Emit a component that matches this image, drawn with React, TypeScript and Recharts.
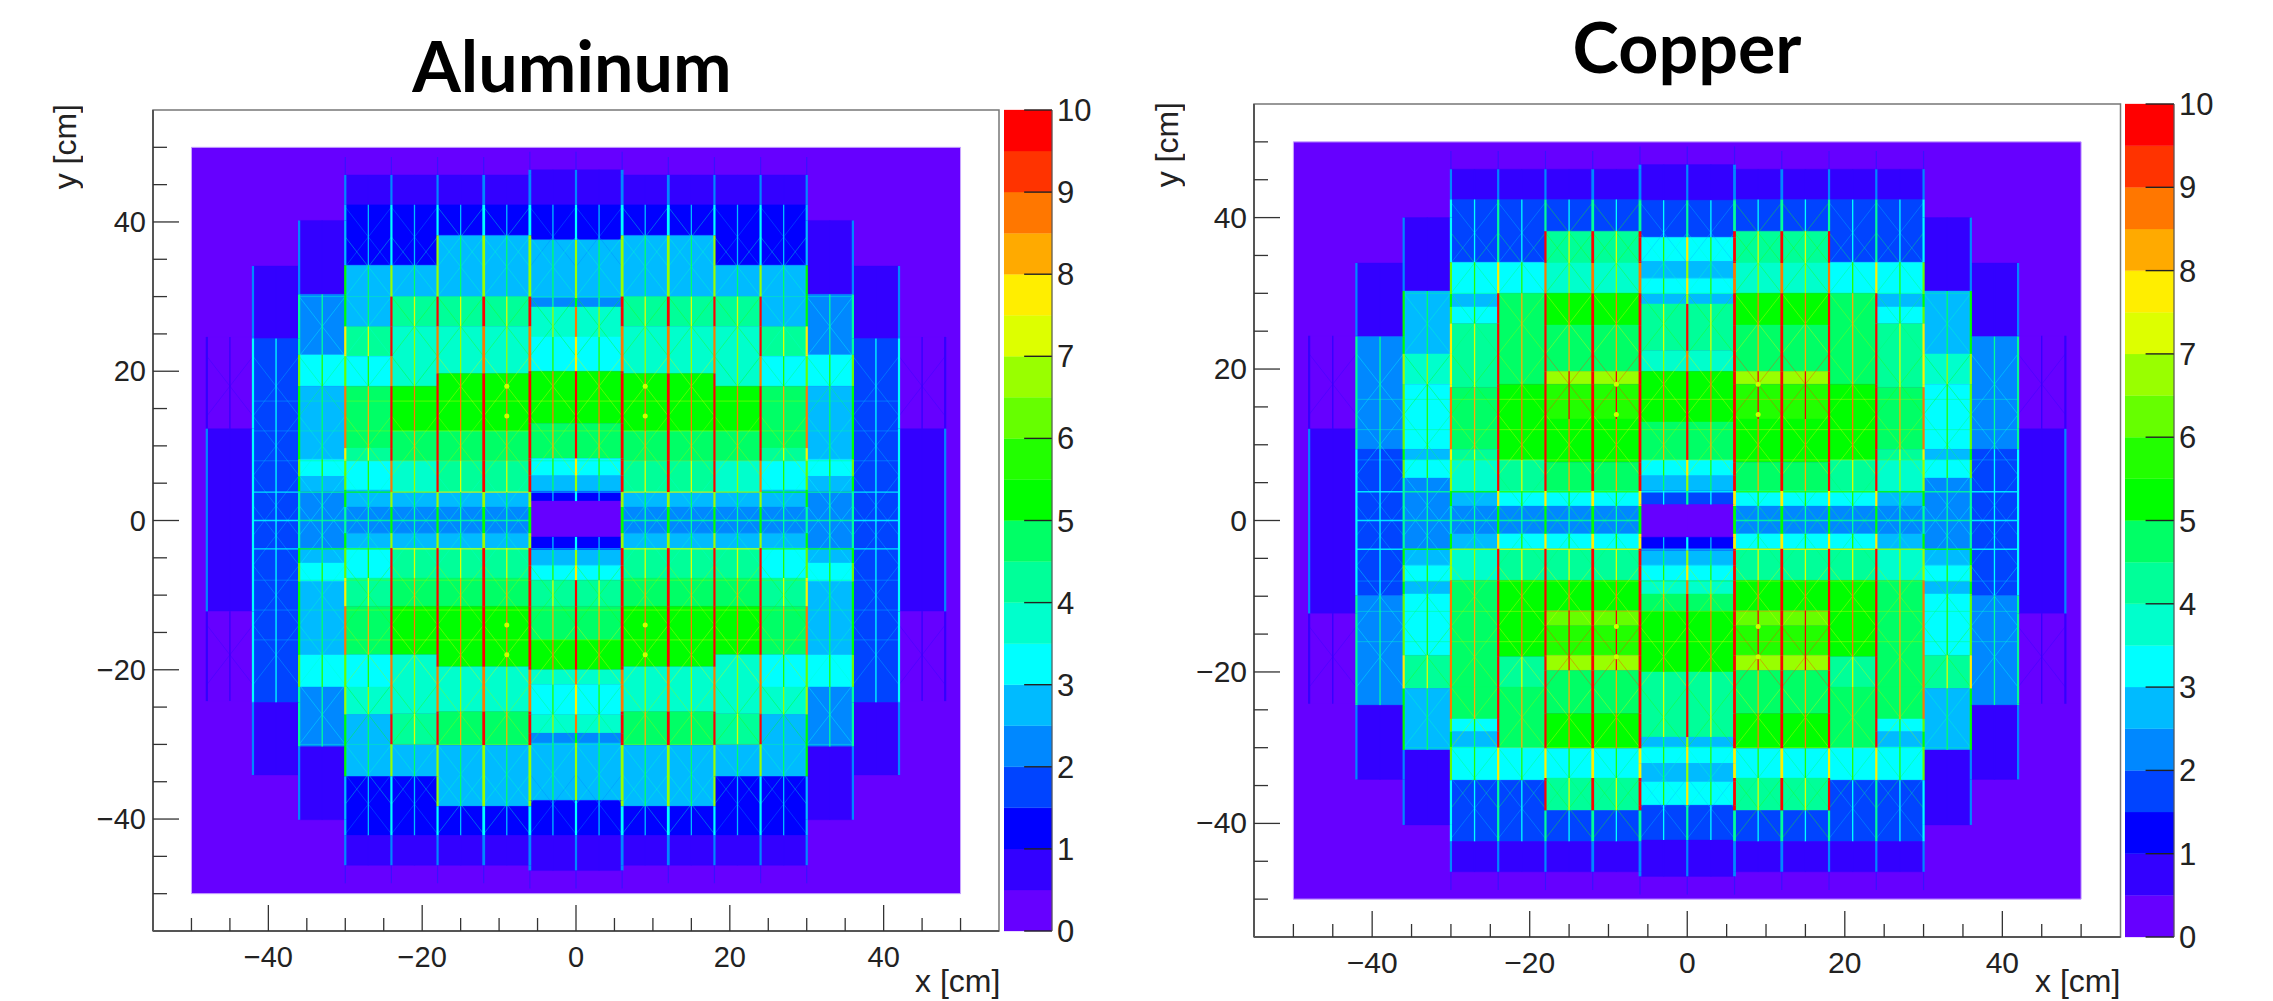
import React from "react";
import { ComposedChart, XAxis, YAxis, ReferenceArea, ReferenceLine, Scatter } from "recharts";

// Colour levels of the palette, bottom (0) to top (10), 0.5 per level
const paletteLevels = ["#6600ff","#3300ff","#0000ff","#0044ff","#0088ff","#00bbff","#00ffff","#00ffcc","#00ff99","#00ff66","#00ff00","#22ff00","#66ff00","#99ff00","#ddff00","#ffee00","#ffaa00","#ff7700","#ff3300","#ff0000"];
const colorbarTicks = [0,1,2,3,4,5,6,7,8,9,10];
const axisTicks = [-50,-45,-40,-35,-30,-25,-20,-15,-10,-5,0,5,10,15,20,25,30,35,40,45,50];

// Each column: y edge, value, y edge, value, ..., y edge (top to bottom, in cm)
const alCol0 = [47,.75,42.3,1.25,37.6,2.75,29.8,2.25,28.6,3.75,24.6,3.25,20,5.25,13,4.75,8.3,3.25,6,2.75,3.9,1.25,2.6,.25,-2.2,1.25,-3.95,2.75,-6,3.25,-8,4.25,-11.5,4.75,-16,5.25,-20,3.75,-22,3.25,-26,3.75,-28.5,2.25,-29.8,2.75,-37.5,1.25,-42.2,.75,-46.9];
const alCol6 = [46.3,.75,42.3,1.25,38.2,2.75,30,4.25,26,3.75,19.7,5.25,12,4.75,8,4.25,3.8,2.75,1.8,2.25,-1.7,2.75,-3.7,4.25,-7.7,4.75,-11.5,5.25,-19.6,3.75,-25.6,4.75,-30.1,2.75,-38.3,1.25,-42.2,.75,-46.2];
const alCol18 = [46.3,.75,42.3,1.25,34.2,2.75,30,4.25,26,3.75,18,5.25,12,4.75,8,3.75,3.8,2.75,1.8,2.25,-1.7,2.75,-3.7,4.25,-7.7,4.75,-11.5,5.25,-18,3.75,-25.9,4.25,-30,2.75,-34.3,1.25,-42.2,.75,-46.2];
const alCol24 = [46.3,.75,42.3,1.25,34.2,2.75,26,4.25,22,3.25,18,4.75,9.7,4.25,8,3.25,4.1,2.75,1.8,2.25,-1.7,2.75,-3.7,3.25,-7.7,4.25,-11.5,4.75,-18,3.25,-22.3,3.75,-26,2.75,-34.3,1.25,-42.2,.75,-46.2];
const alCol30 = [40.2,.75,30.3,2.25,22.2,3.25,18,2.75,8.2,3.25,5.9,2.75,3.9,2.25,-3.7,2.75,-5.7,3.25,-8.2,2.75,-18,3.25,-22.3,2.25,-30.3,.75,-40.1];
const alCol36 = [34.1,.75,24.4,1.75,-24.4,.75,-34.1];
const alCol42 = [24.6,.25,12.3,.75,-12.2,.25,-24.2];

const cuCol0 = [47,.75,42.3,1.75,37.4,3.25,34.2,2.75,32,3.25,29.9,2.75,28.6,4.25,22.4,3.75,19.7,5.25,13,4.75,8,3.25,5.9,2.75,3.9,1.75,2.1,.25,-2.2,1.25,-3.95,2.75,-5.9,3.25,-7.9,3.75,-9.7,4.75,-12,5.25,-20,4.25,-28.6,2.75,-29.9,3.25,-32.1,2.75,-34.5,3.25,-37.6,1.75,-42.2,.75,-47];
const cuCol6 = [46.4,.75,42.4,1.75,38.2,4.25,34,3.75,30,5.25,25.8,4.75,19.7,6.75,18,5.75,13.4,5.25,7.7,4.75,3.9,3.25,1.9,2.25,-1.76,3.25,-3.74,4.25,-7.9,5.25,-11.9,6.25,-13.9,5.75,-17.8,6.75,-19.8,4.75,-25.5,5.25,-30.1,3.25,-34,4.25,-38.3,1.75,-42.4,.75,-46.4];
const cuCol18 = [46.4,.75,42.4,1.75,34.1,3.25,30,4.75,18,5.25,8,4.25,3.9,3.25,1.9,2.25,-1.76,3.25,-3.74,4.25,-7.9,5.25,-18,4.25,-22,4.75,-30,3.25,-34.3,1.75,-42.4,.75,-46.4];
const cuCol24 = [46.4,.75,42.4,1.75,34.1,3.25,29.9,2.75,28.2,3.25,26,4.25,17.6,4.75,9.4,4.25,8,3.75,3.9,2.75,1.9,2.25,-1.76,2.75,-3.74,3.75,-7.9,4.75,-22,4.75,-26.2,3.25,-27.9,2.75,-29.9,3.25,-34.3,1.75,-42.4,.75,-46.4];
const cuCol30 = [40,.75,30.3,2.75,22,3.75,18,3.25,9.4,2.75,8,3.25,5.6,2.25,-3.7,2.75,-5.9,3.25,-8.1,2.75,-9.7,3.25,-17.8,4.25,-22.2,2.75,-30.3,.75,-40.2];
const cuCol36 = [34,.75,24.3,2.25,9.4,1.75,-9.9,2.25,-24.4,.75,-34.2];
const cuCol42 = [24.4,.25,12.1,.75,-12.3,.25,-24.2];

const alColumns = [alCol0, alCol6, alCol6, alCol18, alCol24, alCol30, alCol36, alCol42];
const cuColumns = [cuCol0, cuCol6, cuCol6, cuCol18, cuCol24, cuCol30, cuCol36, cuCol42];

// Module grid of the detector, cm
const moduleEdges = [-48,-42,-36,-30,-24,-18,-12,-6,0,6,12,18,24,30,36,42];
const latticeCrossings = [38,34,26,18,10,2,-2,-10,-18,-26,-34,-38];
const brightRows = [0,3.8,-3.8];
const faintRows = [12,8,16,-8,-12,-16,30,-30];
const hotSpots = [
  { x: -9, y: 18 },{ x: -9, y: 14 },{ x: 9, y: 18 },{ x: 9, y: 14 },
  { x: -9, y: -14 },{ x: -9, y: -18 },{ x: 9, y: -14 },{ x: 9, y: -18 },
];
const barAnchors = colorbarTicks.map((v) => ({ x: 1, v }));

const colorOf = (v: number) => paletteLevels[Math.max(0, Math.min(19, Math.floor(v * 2)))];
const valueIn = (col: number[] | undefined, y: number) => {
  if (!col) return 0;
  for (let i = 1; i < col.length; i += 2) if (y <= col[i - 1] && y >= col[i + 1]) return col[i];
  return 0;
};
const colFor = (cols: number[][], x: number) => cols[Math.floor(Math.abs(x) / 6)];

function cells(cols: number[][]) {
  const out: any[] = [];
  moduleEdges.forEach((x0) => {
    const col = colFor(cols, x0 + 3);
    for (let i = 1; i < col.length; i += 2) {
      const c = colorOf(col[i]);
      out.push(
        <ReferenceArea key={`c${x0}_${i}`} x1={x0} x2={x0 + 6} y1={col[i + 1]} y2={col[i - 1]} fill={c} fillOpacity={1} stroke={c} strokeWidth={0.4} />
      );
    }
  });
  return out;
}

function lattice(cols: number[][]) {
  const out: any[] = [];
  moduleEdges.forEach((x0) => {
    const col = colFor(cols, x0 + 3);
    latticeCrossings.forEach((cy) => {
      const v = valueIn(col, cy);
      if (v === 0 || v === 0.75) return;
      if (x0 >= -6 && x0 < 6 && Math.abs(cy) < 3) return;
      const c = colorOf(v * 1.3 + 0.4);
      [[4, -4], [-4, 4]].forEach(([a, b], k) =>
        out.push(
          <ReferenceLine key={`l${x0}_${cy}_${k}`} segment={[{ x: x0, y: cy + a }, { x: x0 + 6, y: cy + b }]} stroke={c} strokeWidth={0.9} strokeOpacity={0.42} />
        )
      );
    });
  });
  return out;
}

function rows(cols: number[][]) {
  const out: any[] = [];
  moduleEdges.forEach((x0) => {
    if (Math.abs(x0 + 3) > 42) return;
    const col = colFor(cols, x0 + 3);
    brightRows.concat(faintRows).forEach((y, n) => {
      const v = valueIn(col, y);
      if (v <= 0.75) return;
      if (x0 >= -6 && x0 < 6 && Math.abs(y) < 3) return;
      const bright = n < brightRows.length;
      out.push(
        <ReferenceLine key={`r${x0}_${y}`} segment={[{ x: x0, y }, { x: x0 + 6, y }]} stroke={colorOf(v * (bright ? 1.6 : 1.3) + 0.6)} strokeWidth={bright ? 1.4 : 1} strokeOpacity={bright ? 0.85 : 0.4} />
      );
    });
  });
  return out;
}

function verticals(cols: number[][]) {
  const out: any[] = [];
  for (let k = -16; k <= 16; k++) {
    const x = k * 3;
    const major = k % 2 === 0;
    const inner = x === 0 ? cols[0] : colFor(cols, x - Math.sign(x));
    const outer = Math.abs(x) + 1 < 48 ? colFor(cols, x + Math.sign(x || 1)) : undefined;
    const edges = Array.from(new Set([
      ...inner.filter((_, i) => i % 2 === 0),
      ...(outer || []).filter((_, i) => i % 2 === 0),
    ])).sort((a, b) => b - a);
    const factor = major ? (Math.abs(x) >= 30 ? 1.7 : 2.2) : 1.6;
    const width = major ? (Math.abs(x) === 6 || Math.abs(x) === 12 ? 2.8 : 2.2) : 1.3;
    for (let i = 0; i + 1 < edges.length; i++) {
      const mid = (edges[i] + edges[i + 1]) / 2;
      const v = Math.max(valueIn(inner, mid), valueIn(outer, mid));
      if (v === 0) continue;
      if (Math.abs(x) < 6 && Math.abs(mid) < 2.2) continue;
      const c = colorOf(v <= 0.25 ? 0.75 : v <= 0.75 ? (major ? 2.2 : 0.9) : 0.5 + factor * v);
      out.push(
        <ReferenceLine key={`v${x}_${i}`} segment={[{ x, y: edges[i] }, { x, y: edges[i + 1] }]} stroke={c} strokeWidth={width} />
      );
    }
    if (major && Math.abs(x) <= 30) {
      [1, -1].forEach((s) => {
        const end = s > 0 ? edges[0] : edges[edges.length - 1];
        out.push(
          <ReferenceLine key={`e${x}_${s}`} segment={[{ x, y: end }, { x, y: end + s * 2.4 }]} stroke="#3a10ff" strokeWidth={1.2} />
        );
      });
    }
  }
  return out;
}

const XTick = ({ x, y, payload, labelPx }: any) => {
  const v = payload.value;
  const major = v % 20 === 0;
  return (
    <g>
      <line x1={x} x2={x} y1={y} y2={y - (major ? 26 : 13)} stroke="#333" strokeWidth={1.3} />
      {major && Math.abs(v) <= 40 ? (
        <text x={x} y={y + 36} textAnchor="middle" fontFamily="Liberation Sans" fontSize={labelPx} fill="#222">
          {v < 0 ? `\u2212${-v}` : v}
        </text>
      ) : null}
    </g>
  );
};

const YTick = ({ x, y, payload, labelPx }: any) => {
  const v = payload.value;
  const major = v % 20 === 0;
  return (
    <g>
      <line x1={x} x2={x + (major ? 26 : 14)} y1={y} y2={y} stroke="#333" strokeWidth={1.3} />
      {major && Math.abs(v) <= 40 ? (
        <text x={x - 7} y={y + 10} textAnchor="end" fontFamily="Liberation Sans" fontSize={labelPx} fill="#222">
          {v < 0 ? `\u2212${-v}` : v}
        </text>
      ) : null}
    </g>
  );
};

const BarTick = ({ x, y, payload, labelPx }: any) => (
  <text x={x + 5} y={y + 11} textAnchor="start" fontFamily="Liberation Sans" fontSize={labelPx} fill="#222">
    {payload.value}
  </text>
);

function Panel({ columns, left, width, top, bottom, plotLeft, plotRight, labelPx }: any) {
  const height = 1001;
  const margin = { left: plotLeft - 40, right: width - plotRight, top, bottom: height - bottom - 40 };
  return (
    <div style={{ position: "absolute", left, top: 0 }}>
      <ComposedChart width={width} height={height} margin={margin} data={hotSpots}>
        <XAxis
          xAxisId={0}
          dataKey="x"
          type="number"
          domain={[-55, 55]}
          ticks={axisTicks}
          interval={0}
          height={40}
          tickSize={0}
          tickMargin={0}
          tickLine={false}
          allowDataOverflow
          axisLine={{ stroke: "#555", strokeWidth: 2 }}
          tick={<XTick labelPx={labelPx} />}
        />
        <YAxis
          yAxisId={0}
          dataKey="y"
          type="number"
          domain={[-55, 55]}
          ticks={axisTicks}
          interval={0}
          width={40}
          tickSize={0}
          tickMargin={0}
          tickLine={false}
          allowDataOverflow
          axisLine={{ stroke: "#555", strokeWidth: 2 }}
          tick={<YTick labelPx={labelPx} />}
        />
        <ReferenceArea x1={-50} x2={50} y1={-50} y2={50} fill={paletteLevels[0]} fillOpacity={1} stroke="#c9a6ff" strokeWidth={1} />
        {cells(columns)}
        {lattice(columns)}
        {rows(columns)}
        {verticals(columns)}
        <ReferenceArea x1={-55} x2={55} y1={-55} y2={55} fill="none" fillOpacity={0} stroke="#777" strokeWidth={1.5} />
        <Scatter data={hotSpots} dataKey="y" fill="#ccff00" isAnimationActive={false} shape={(p: any) => <circle cx={p.cx} cy={p.cy} r={2.5} fill="#ccff00" />} />
      </ComposedChart>
    </div>
  );
}

function Colorbar({ left, width, top, bottom, labelPx }: any) {
  const height = 1001;
  return (
    <div style={{ position: "absolute", left, top: 0 }}>
      <ComposedChart width={width + 60} height={height} margin={{ left: 0, right: 8, top, bottom: height - bottom }} data={barAnchors}>
        <XAxis xAxisId={0} dataKey="x" type="number" domain={[0, 1]} allowDataOverflow hide />
        <YAxis
          yAxisId={0}
          dataKey="v"
          orientation="right"
          type="number"
          domain={[0, 10]}
          ticks={colorbarTicks}
          interval={0}
          allowDataOverflow
          width={52}
          tickSize={0}
          tickMargin={0}
          tickLine={false}
          axisLine={{ stroke: "#555", strokeWidth: 1.2 }}
          tick={<BarTick labelPx={labelPx} />}
        />
        {paletteLevels.map((c, i) => (
          <ReferenceArea key={i} x1={0} x2={1} y1={i / 2} y2={(i + 1) / 2} fill={c} fillOpacity={1} stroke={c} strokeWidth={0.3} />
        ))}
        {colorbarTicks.map((v) => (
          <ReferenceLine key={`t${v}`} segment={[{ x: 0.42, y: v }, { x: 1, y: v }]} stroke="#222" strokeWidth={1.4} />
        ))}
        <Scatter data={barAnchors} dataKey="v" isAnimationActive={false} shape={(p: any) => <circle cx={p.cx} cy={p.cy} r={0.5} fill="#222" />} />
      </ComposedChart>
    </div>
  );
}

const titleStyle: React.CSSProperties = {
  position: "absolute",
  fontFamily: "Lato",
  fontWeight: 700,
  fontSize: 70,
  lineHeight: "70px",
  color: "#000",
  transform: "translateX(-50%)",
  whiteSpace: "nowrap",
};
const axisLabel: React.CSSProperties = {
  position: "absolute",
  fontFamily: "Liberation Sans",
  fontSize: 32,
  lineHeight: "30px",
  color: "#222",
  whiteSpace: "nowrap",
};

export default function App() {
  return (
    <div style={{ position: "absolute", left: 0, top: 0, width: 2273, height: 1001, background: "#fff", overflow: "hidden" }}>
      <Panel columns={alColumns} left={0} width={1002} top={110} bottom={931} plotLeft={153} plotRight={999} labelPx={29} />
      <Panel columns={cuColumns} left={1130} width={995} top={104} bottom={937} plotLeft={124} plotRight={990.5} labelPx={30} />
      <Colorbar left={1004} width={48} top={110} bottom={931} labelPx={31} />
      <Colorbar left={2125} width={49} top={104} bottom={937} labelPx={31} />
      <div style={{ ...titleStyle, left: 572, top: 30 }}>Aluminum</div>
      <div style={{ ...titleStyle, left: 1687, top: 11 }}>Copper</div>
      <div style={{ ...axisLabel, left: 50, top: 104, writingMode: "vertical-rl", transform: "rotate(180deg)" }}>y [cm]</div>
      <div style={{ ...axisLabel, left: 1152, top: 102, writingMode: "vertical-rl", transform: "rotate(180deg)" }}>y [cm]</div>
      <div style={{ ...axisLabel, left: 915, top: 966 }}>x [cm]</div>
      <div style={{ ...axisLabel, left: 2035, top: 966 }}>x [cm]</div>
    </div>
  );
}
